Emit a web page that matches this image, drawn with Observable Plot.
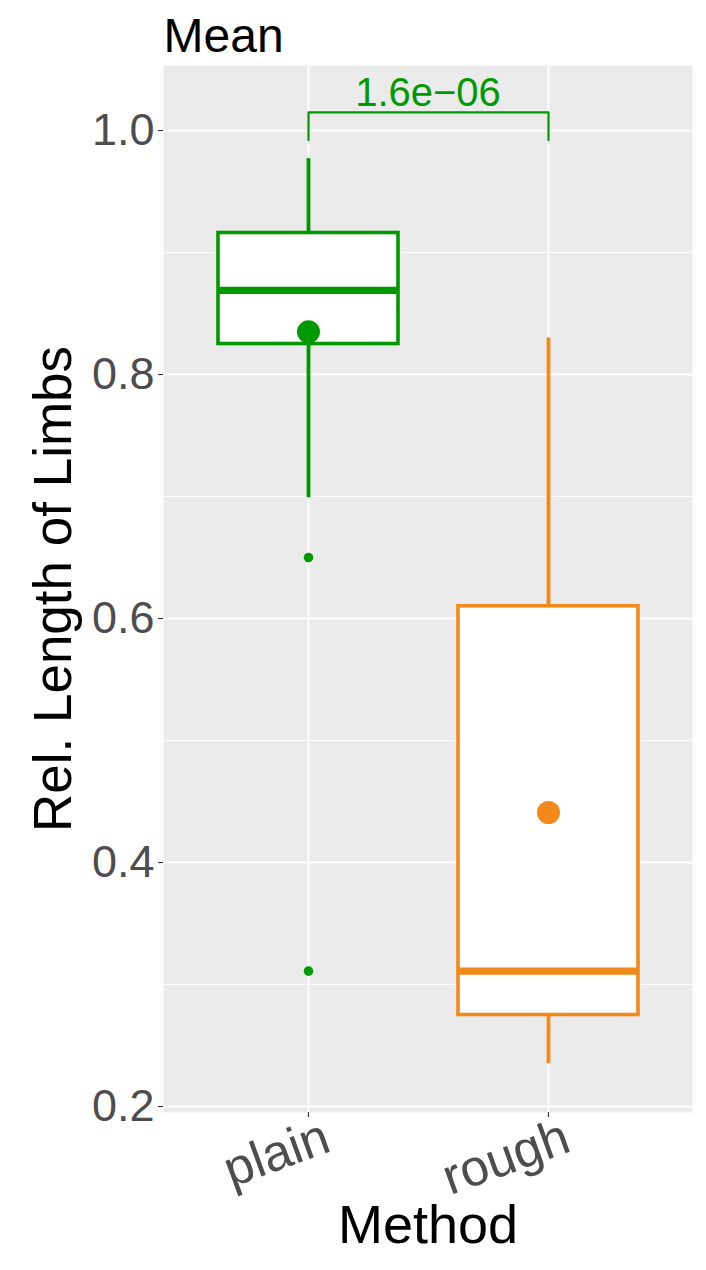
<!DOCTYPE html>
<html>
<head>
<meta charset="utf-8">
<script src="https://cdn.jsdelivr.net/npm/d3@7"></script>
<script src="https://cdn.jsdelivr.net/npm/@observablehq/plot@0.6"></script>
<style>
  html, body { margin: 0; padding: 0; background: #fff; }
  #chart { width: 706px; height: 1270px; }
</style>
</head>
<body>
<div id="chart"></div>
<script>
// Data
const methods = ["plain", "rough"];
const colors = ["#009900", "#F28A1A"];
const q1 = [0.825, 0.275];
const median = [0.869, 0.311];
const q3 = [0.916, 0.610];
const whiskerLow = [0.699, 0.235];
const whiskerHigh = [0.977, 0.830];
const means = [0.835, 0.441];
const outlierMethod = ["plain", "plain"];
const outlierValue = [0.650, 0.311];
const pLabel = "1.6e\u221206";
const bracketY = 1.0148;
const bracketTickEnd = 0.992;
const yTicks = [0.2, 0.4, 0.6, 0.8, 1.0];
const yMinor = [0.3, 0.5, 0.7, 0.9];

const boxes = methods.map((m, i) => ({
  method: m, color: colors[i], q1: q1[i], median: median[i], q3: q3[i],
  lo: whiskerLow[i], hi: whiskerHigh[i], mean: means[i]
}));
const outliers = outlierMethod.map((m, i) => ({method: m, value: outlierValue[i], color: colors[methods.indexOf(m)]}));

const font = "'Liberation Sans', Arial, Helvetica, sans-serif";

const chart = Plot.plot({
  width: 706,
  height: 1270,
  marginLeft: 163,
  marginRight: 14,
  marginTop: 65,
  marginBottom: 158,
  style: {fontFamily: font, background: "#fff", overflow: "visible"},
  x: {type: "band", domain: methods, paddingInner: 0.25, paddingOuter: 0.225, axis: null},
  y: {domain: [0.1951, 1.0533], axis: null},
  marks: [
    Plot.frame({fill: "#ebebeb", stroke: null}),
    Plot.gridY(yMinor, {stroke: "#fff", strokeOpacity: 1, strokeWidth: 0.9}),
    Plot.gridY(yTicks, {stroke: "#fff", strokeOpacity: 1, strokeWidth: 1.8}),
    Plot.gridX(methods, {stroke: "#fff", strokeOpacity: 1, strokeWidth: 1.8}),
    // whiskers
    Plot.ruleX(boxes, {x: "method", y1: "q3", y2: "hi", stroke: "color", strokeWidth: 3.8}),
    Plot.ruleX(boxes, {x: "method", y1: "lo", y2: "q1", stroke: "color", strokeWidth: 3.8}),
    // boxes
    Plot.barY(boxes, {x: "method", y1: "q1", y2: "q3", fill: "#fff", stroke: "color", strokeWidth: 3.6, inset: 0}),
    // median
    Plot.tickY(boxes, {x: "method", y: "median", stroke: "color", strokeWidth: 7.2}),
    // outliers
    Plot.dot(outliers, {x: "method", y: "value", fill: "color", r: 4.8, stroke: null}),
    // means
    Plot.dot(boxes, {x: "method", y: "mean", fill: "color", r: 11.5, stroke: null}),
    // significance bracket
    Plot.line([
      {method: methods[0], v: bracketTickEnd},
      {method: methods[0], v: bracketY},
      {method: methods[1], v: bracketY},
      {method: methods[1], v: bracketTickEnd}
    ], {x: "method", y: "v", stroke: colors[0], strokeWidth: 2.2, curve: "linear"}),
    Plot.text([pLabel], {
      y: () => bracketY, text: d => d,
      fill: colors[0], fontSize: 40, lineAnchor: "bottom", dy: -6
    }),
    // axes
    Plot.axisY(yTicks, {
      tickSize: 5, tickPadding: 4, stroke: "#333", strokeWidth: 1.1,
      fontSize: 45, fill: "#4d4d4d", tickFormat: d3.format(".1f"), label: null
    }),
    Plot.axisX(methods, {
      tickSize: 5, stroke: "#333", strokeWidth: 1.1, label: null, text: null
    }),
    Plot.text(methods, {
      x: d => d, frameAnchor: "bottom", text: d => d,
      rotate: -20, textAnchor: "end", lineAnchor: "top",
      fontSize: 51, fill: "#4d4d4d", dx: 12, dy: 4
    }),
    // axis titles & title
    Plot.text(["Method"], {
      frameAnchor: "bottom", text: d => d, fontSize: 54, fill: "#000",
      lineAnchor: "bottom", dy: 130
    }),
    Plot.text(["Rel. Length of Limbs"], {
      frameAnchor: "left", text: d => d, fontSize: 53, fill: "#000",
      rotate: -90, textAnchor: "middle", lineAnchor: "top", dx: -130
    }),
    Plot.text(["Mean"], {
      frameAnchor: "top-left", text: d => d, fontSize: 48, fill: "#000",
      textAnchor: "start", lineAnchor: "bottom", dy: -14
    })
  ]
});
document.getElementById("chart").appendChild(chart);
</script>
</body>
</html>
